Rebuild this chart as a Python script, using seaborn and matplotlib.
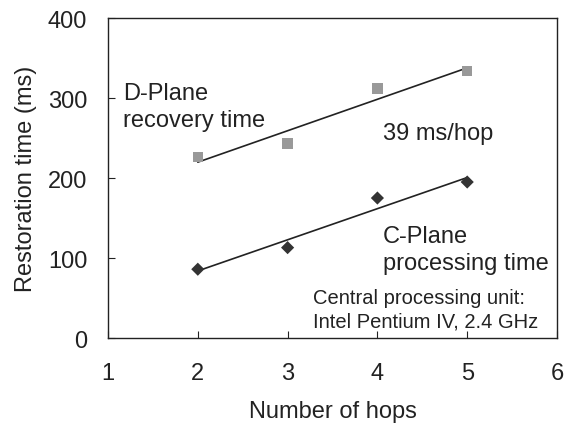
import numpy as np
import pandas as pd
import seaborn as sns
import matplotlib.pyplot as plt

sns.set_theme(style="white")
plt.rcParams['font.family'] = ['Liberation Sans', 'DejaVu Sans']

hops = [2, 3, 4, 5]
d_plane = [226, 243, 312, 334]   # D-Plane recovery time (ms)
c_plane = [86, 113, 175, 195]    # C-Plane processing time (ms)

df = pd.DataFrame({'hops': hops, 'dplane': d_plane, 'cplane': c_plane})

fig, ax = plt.subplots(figsize=(5.64, 4.27), dpi=100)
fig.subplots_adjust(left=0.1915, right=0.9876, top=0.9555, bottom=0.206)

# fitted lines
sns.regplot(x='hops', y='dplane', data=df, ci=None, scatter=False, truncate=True,
            line_kws={'color': '#222222', 'lw': 1.2}, ax=ax)
sns.regplot(x='hops', y='cplane', data=df, ci=None, scatter=False, truncate=True,
            line_kws={'color': '#222222', 'lw': 1.2}, ax=ax)

sns.scatterplot(x='hops', y='dplane', data=df, marker='s', s=55, color='#999999',
                edgecolor='none', ax=ax, zorder=3)
sns.scatterplot(x='hops', y='cplane', data=df, marker='D', s=45, color='#333333',
                edgecolor='none', ax=ax, zorder=3)

ax.set_xlim(1, 6)
ax.set_ylim(0, 400)
ax.set_xticks([1, 2, 3, 4, 5, 6])
ax.set_yticks([0, 100, 200, 300, 400])
ax.tick_params(axis='both', direction='in', length=5, width=0.8, colors='#222222',
               labelsize=17, left=True, bottom=True)
ax.tick_params(axis='y', pad=15)
ax.tick_params(axis='x', pad=17)
for lab in ax.get_xticklabels() + ax.get_yticklabels():
    lab.set_color('#222222')
for sp in ax.spines.values():
    sp.set_color('#222222')
    sp.set_linewidth(1.0)

ax.set_xlabel('Number of hops', fontsize=17, color='#222222', labelpad=12)
ax.set_ylabel('Restoration time (ms)', fontsize=17, color='#222222', labelpad=8)

ax.text(1.17, 265, 'D-Plane\nrecovery time', fontsize=17, color='#222222',
        linespacing=1.3, va='baseline')
ax.text(4.06, 249, '39 ms/hop', fontsize=17, color='#222222', va='baseline')
ax.text(4.06, 86, 'C-Plane\nprocessing time', fontsize=17, color='#222222',
        linespacing=1.3, va='baseline')
ax.text(3.28, 15, 'Central processing unit:\nIntel Pentium IV, 2.4 GHz', fontsize=14.5,
        color='#222222', linespacing=1.25, va='baseline')

fig.savefig('out.png', dpi=100)
